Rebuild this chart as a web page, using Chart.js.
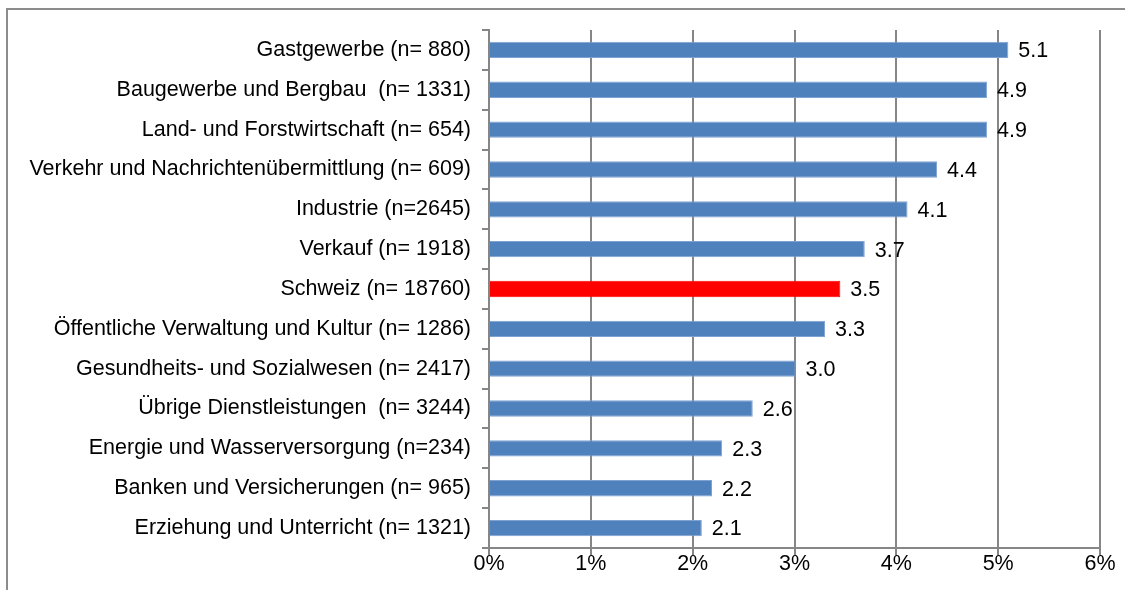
<!DOCTYPE html>
<html><head><meta charset="utf-8">
<script src="https://cdn.jsdelivr.net/npm/chart.js@4"></script>
<style>html,body{margin:0;padding:0;background:#fff}#wrap{width:1125px;height:590px;position:relative}</style>
</head><body><div id="wrap"><canvas id="c" width="1125" height="590"></canvas></div>
<script>
const categories = [
 "Gastgewerbe (n= 880)",
 "Baugewerbe und Bergbau  (n= 1331)",
 "Land- und Forstwirtschaft (n= 654)",
 "Verkehr und Nachrichtenübermittlung (n= 609)",
 "Industrie (n=2645)",
 "Verkauf (n= 1918)",
 "Schweiz (n= 18760)",
 "Öffentliche Verwaltung und Kultur (n= 1286)",
 "Gesundheits- und Sozialwesen (n= 2417)",
 "Übrige Dienstleistungen  (n= 3244)",
 "Energie und Wasserversorgung (n=234)",
 "Banken und Versicherungen (n= 965)",
 "Erziehung und Unterricht (n= 1321)"
];
const values = [5.10, 4.89, 4.89, 4.40, 4.11, 3.69, 3.45, 3.30, 3.01, 2.59, 2.29, 2.19, 2.09];
const valueLabels = ["5.1","4.9","4.9","4.4","4.1","3.7","3.5","3.3","3.0","2.6","2.3","2.2","2.1"];
const highlight = "Schweiz (n= 18760)";
const xTicks = [0,1,2,3,4,5,6];

const FONT = "'Liberation Sans', Arial, sans-serif";
const FS = 21.5;
const colors = categories.map(c => c === highlight ? '#FF0000' : '#4F81BD');
const borders = categories.map(c => c === highlight ? '#FF0000' : '#7EA3D3');

const labelPlugin = {
  id: 'vlabels',
  afterDatasetsDraw(chart) {
    const ctx = chart.ctx;
    const meta = chart.getDatasetMeta(0);
    ctx.save();
    ctx.font = FS + 'px ' + FONT;
    ctx.fillStyle = '#000';
    ctx.textBaseline = 'middle';
    ctx.textAlign = 'left';
    meta.data.forEach((bar, i) => {
      ctx.fillText(valueLabels[i], bar.x + 10, bar.y + 1.5);
    });
    ctx.restore();
  }
};
const framePlugin = {
  id: 'frame',
  afterDraw(chart) {
    const ctx = chart.ctx;
    ctx.save();
    ctx.strokeStyle = '#8C8C8C';
    ctx.lineWidth = 2;
    ctx.beginPath();
    ctx.moveTo(1125, 9);
    ctx.lineTo(7, 9);
    ctx.lineTo(7, 590);
    ctx.stroke();
    ctx.restore();
  }
};

new Chart(document.getElementById('c'), {
  type: 'bar',
  data: {
    labels: categories,
    datasets: [{
      data: values,
      backgroundColor: colors,
      borderColor: borders,
      borderWidth: 1,
      barPercentage: 0.41,
      categoryPercentage: 1.0
    }]
  },
  options: {
    indexAxis: 'y',
    responsive: false,
    animation: false,
    devicePixelRatio: 1,
    layout: { padding: { top: 30, right: 25, left: 0, bottom: 0 } },
    plugins: { legend: { display: false }, tooltip: { enabled: false } },
    scales: {
      x: {
        min: 0, max: 6,
        afterBuildTicks(scale) { scale.ticks = xTicks.map(v => ({ value: v })); },
        afterFit(scale) { scale.height = 42; },
        grid: { color: '#868686', lineWidth: 2, tickLength: 7, drawTicks: true },
        border: { color: '#868686', width: 2 },
        ticks: { color: '#000', font: { family: FONT, size: FS }, padding: -4, maxRotation: 0,
                 callback: v => v + '%' }
      },
      y: {
        afterFit(scale) { scale.width = 489; },
        grid: { offset: true, drawOnChartArea: false, color: '#868686', lineWidth: 2, tickLength: 7 },
        border: { color: '#868686', width: 2 },
        ticks: { color: '#000', font: { family: FONT, size: FS }, padding: 11, autoSkip: false }
      }
    }
  },
  plugins: [labelPlugin, framePlugin]
});
</script></body></html>
